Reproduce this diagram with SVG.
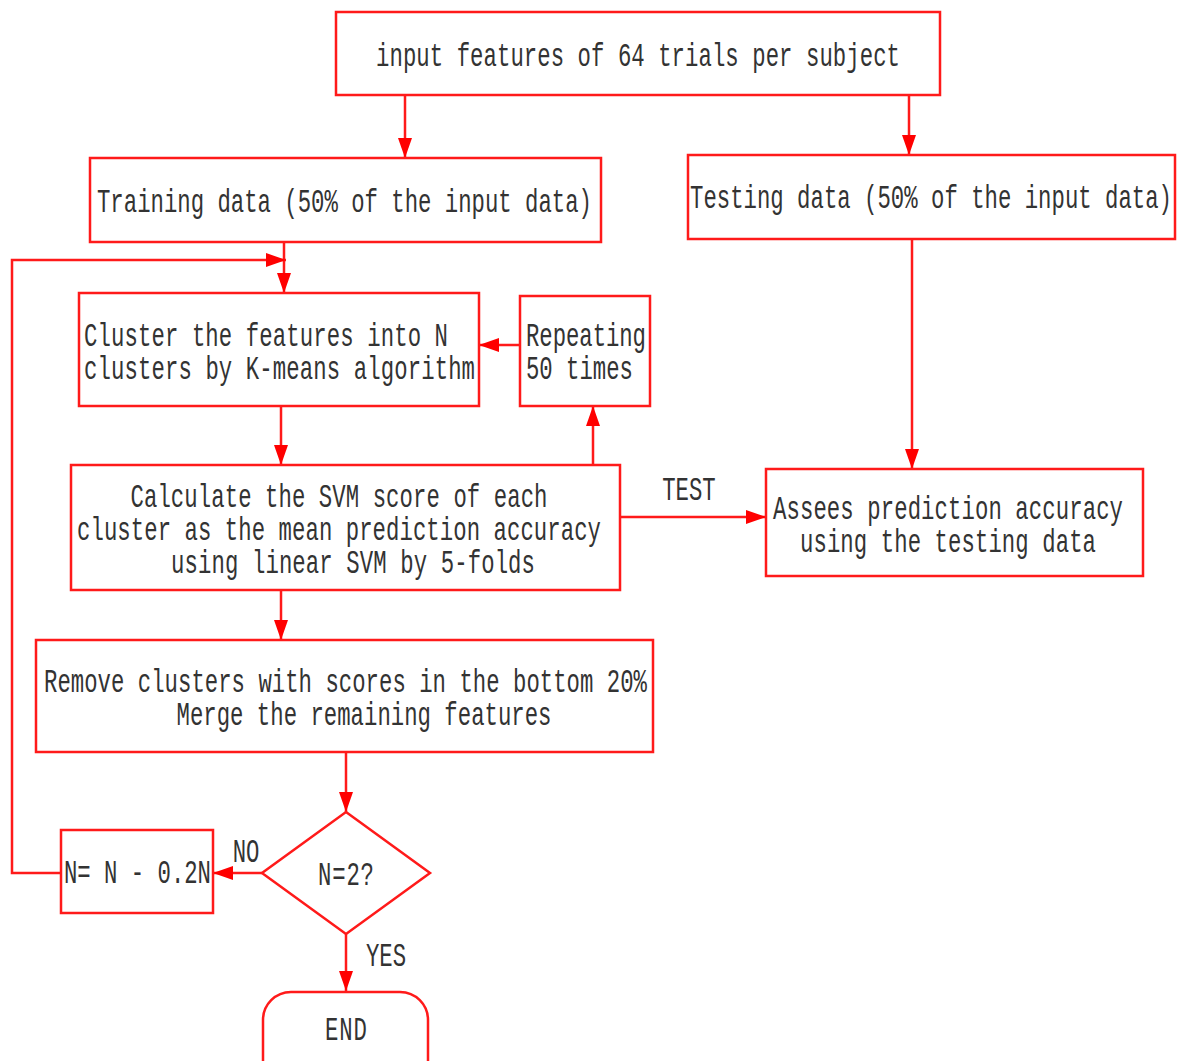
<svg xmlns="http://www.w3.org/2000/svg" width="1177" height="1061" viewBox="0 0 1177 1061">
<style>
.n{fill:#fff;stroke:#ff1a1a;stroke-width:2.5}
.c{fill:none;stroke:#ff1a1a;stroke-width:2.5}
.t{font-family:"Liberation Mono","DejaVu Sans Mono",monospace;font-size:22.3px;fill:#333}
.m{text-anchor:middle}
</style>
<defs>
<marker id="a" markerWidth="20" markerHeight="14" refX="20" refY="7" orient="auto" markerUnits="userSpaceOnUse">
<path d="M0,0 L20,7 L0,14 Z" fill="#ff0000"/>
</marker>
</defs>
<rect width="1177" height="1061" fill="#fff"/>
<g id="connectors">
<path class="c" d="M405,95 V158" marker-end="url(#a)"/>
<path class="c" d="M909,95 V155" marker-end="url(#a)"/>
<path class="c" d="M284,242 V293" marker-end="url(#a)"/>
<path class="c" d="M61,873 H12 V260 H286" marker-end="url(#a)"/>
<path class="c" d="M281,406 V465" marker-end="url(#a)"/>
<path class="c" d="M593,465 V406" marker-end="url(#a)"/>
<path class="c" d="M520,345 H479" marker-end="url(#a)"/>
<path class="c" d="M620,517 H766" marker-end="url(#a)"/>
<path class="c" d="M912,239 V469" marker-end="url(#a)"/>
<path class="c" d="M281,590 V640" marker-end="url(#a)"/>
<path class="c" d="M346,752 V812" marker-end="url(#a)"/>
<path class="c" d="M262,873 H213" marker-end="url(#a)"/>
<path class="c" d="M346,934 V991" marker-end="url(#a)"/>
<text class="t m" transform="translate(689,500) scale(1,1.45)">TEST</text>
<text class="t m" transform="translate(246,862) scale(1,1.45)">NO</text>
<text class="t m" transform="translate(386,966) scale(1,1.45)">YES</text>
</g>
<g id="input">
<rect class="n" x="336" y="12" width="604" height="83"/>
<text class="t m" transform="translate(638,66) scale(1,1.45)" textLength="524">input features of 64 trials per subject</text>
</g>
<g id="training">
<rect class="n" x="90" y="158" width="511" height="84"/>
<text class="t" transform="translate(97,212) scale(1,1.45)" textLength="495">Training data (50% of the input data)</text>
</g>
<g id="testing">
<rect class="n" x="688" y="155" width="487" height="84"/>
<text class="t" transform="translate(690,208) scale(1,1.45)" textLength="482">Testing data (50% of the input data)</text>
</g>
<g id="cluster">
<rect class="n" x="79" y="293" width="400" height="113"/>
<text class="t" transform="translate(84,346) scale(1,1.45)" textLength="364">Cluster the features into N</text>
<text class="t" transform="translate(84,379) scale(1,1.45)" textLength="391">clusters by K-means algorithm</text>
</g>
<g id="repeat">
<rect class="n" x="520" y="296" width="130" height="110"/>
<text class="t" transform="translate(526,346) scale(1,1.45)" textLength="120">Repeating</text>
<text class="t" transform="translate(526,379) scale(1,1.45)" textLength="107">50 times</text>
</g>
<g id="svm">
<rect class="n" x="71" y="465" width="549" height="125"/>
<text class="t m" transform="translate(339,507) scale(1,1.45)" textLength="417">Calculate the SVM score of each</text>
<text class="t m" transform="translate(339,540) scale(1,1.45)" textLength="524">cluster as the mean prediction accuracy</text>
<text class="t m" transform="translate(353,573) scale(1,1.45)" textLength="364">using linear SVM by 5-folds</text>
</g>
<g id="assess">
<rect class="n" x="766" y="469" width="377" height="107"/>
<text class="t m" transform="translate(948,519) scale(1,1.45)" textLength="350">Assees prediction accuracy</text>
<text class="t m" transform="translate(948,552) scale(1,1.45)" textLength="296">using the testing data</text>
</g>
<g id="remove">
<rect class="n" x="36" y="640" width="617" height="112"/>
<text class="t" transform="translate(44,692) scale(1,1.45)" textLength="603">Remove clusters with scores in the bottom 20%</text>
<text class="t m" transform="translate(364,725) scale(1,1.45)" textLength="375">Merge the remaining features</text>
</g>
<g id="decision">
<polygon class="n" points="346,812 430,873 346,934 262,873"/>
<text class="t m" transform="translate(346,885) scale(1,1.45)" textLength="56">N=2?</text>
</g>
<g id="update">
<rect class="n" x="61" y="830" width="152" height="83"/>
<text class="t" transform="translate(64,883) scale(1,1.45)" textLength="147">N= N - 0.2N</text>
</g>
<g id="end">
<rect class="n" x="263" y="992" width="165" height="100" rx="28"/>
<text class="t m" transform="translate(346,1040) scale(1,1.45)" textLength="42">END</text>
</g>
</svg>
